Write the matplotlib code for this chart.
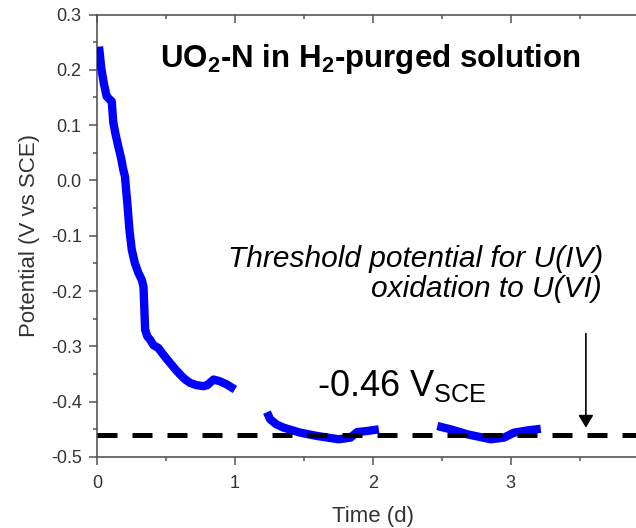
import numpy as np
import matplotlib
matplotlib.use("Agg")
import matplotlib.pyplot as plt
from matplotlib.ticker import MultipleLocator

plt.rcParams['font.family'] = ['Liberation Sans', 'DejaVu Sans']
plt.rcParams['mathtext.default'] = 'regular'

# Open circuit potential (time in days, potential in V vs SCE)
t_seg1 = [0.015, 0.03, 0.05, 0.07, 0.09, 0.107, 0.118, 0.135, 0.155, 0.175,
          0.191, 0.203, 0.212, 0.22, 0.235, 0.252, 0.275, 0.30, 0.325, 0.337,
          0.343, 0.349, 0.365, 0.385, 0.41, 0.445, 0.49, 0.53, 0.57, 0.603,
          0.64, 0.675, 0.72, 0.772, 0.80, 0.845, 0.89, 0.942, 1.0]
v_seg1 = [0.242, 0.205, 0.175, 0.152, 0.147, 0.143, 0.105, 0.083, 0.061, 0.04,
          0.019, 0.007, -0.02, -0.041, -0.089, -0.125, -0.15, -0.167, -0.18, -0.192,
          -0.23, -0.27, -0.282, -0.288, -0.298, -0.303, -0.318, -0.33, -0.342, -0.351,
          -0.36, -0.366, -0.37, -0.372, -0.37, -0.36, -0.363, -0.369, -0.378]

t_seg2 = [1.232, 1.256, 1.30, 1.353, 1.474, 1.595, 1.752, 1.837, 1.886, 1.958, 2.043]
v_seg2 = [-0.419, -0.432, -0.441, -0.447, -0.456, -0.462, -0.468, -0.465, -0.455, -0.453, -0.45]

t_seg3 = [2.467, 2.564, 2.685, 2.854, 2.95, 3.023, 3.12, 3.217]
v_seg3 = [-0.444, -0.45, -0.459, -0.468, -0.465, -0.456, -0.452, -0.449]

threshold = -0.46
arrow_t = 3.544
arrow_top = -0.277

fig = plt.figure(figsize=(6.36, 5.28), dpi=100)
ax = fig.add_axes([0.1525, 0.1345, 0.8676, 0.838])

for t, v in [(t_seg1, v_seg1), (t_seg2, v_seg2), (t_seg3, v_seg3)]:
    ax.plot(t, v, color='#0000ff', lw=6, solid_joinstyle='round', solid_capstyle='butt', zorder=3)

# threshold line
ax.axhline(threshold, color='black', lw=3.6, dashes=(4, 3), zorder=4)

ax.annotate('', xy=(arrow_t, threshold + 0.013), xytext=(arrow_t, arrow_top),
            arrowprops=dict(arrowstyle='-|>,head_width=0.45,head_length=0.75',
                            color='black', lw=1.2, shrinkA=0, shrinkB=0))

ax.text(0.458, 0.205, 'UO$_2$-N in H$_2$-purged solution', fontsize=22.5,
        fontweight='bold', ha='left', va='baseline')
ax.text(3.667, -0.156, 'Threshold potential for U(IV)', fontsize=21.5,
        style='italic', ha='right', va='baseline')
ax.text(3.66, -0.21, 'oxidation to U(VI)', fontsize=21.5,
        style='italic', ha='right', va='baseline')
ax.text(1.598, -0.389, '-0.46 V$_{SCE}$', fontsize=26, ha='left', va='baseline')

ax.set_xlim(0, 4)
ax.set_ylim(-0.5, 0.3)
ax.xaxis.set_major_locator(MultipleLocator(1))
ax.xaxis.set_minor_locator(MultipleLocator(0.5))
ax.yaxis.set_major_locator(MultipleLocator(0.1))
ax.yaxis.set_minor_locator(MultipleLocator(0.05))
ax.yaxis.set_major_formatter(plt.FuncFormatter(lambda v, p: f'{v:.1f}'))
ax.xaxis.set_major_formatter(plt.FuncFormatter(lambda v, p: '' if v > 3.5 else f'{v:.0f}'))

spine_col = '#555555'
for side in ['left', 'bottom', 'top']:
    ax.spines[side].set_color(spine_col)
    ax.spines[side].set_linewidth(1.2)
ax.spines['right'].set_visible(False)

ax.tick_params(axis='both', which='major', direction='out', length=6, width=1.1,
               color=spine_col, labelsize=13, labelcolor='#333333', pad=5)
ax.tick_params(axis='both', which='minor', direction='out', length=3, width=1.1,
               color=spine_col)
ax.tick_params(axis='x', which='both', top=True)
ax.tick_params(axis='x', which='major', pad=7)

# top ticks point inward, bottom ones outward
for tk in ax.xaxis.get_major_ticks() + ax.xaxis.get_minor_ticks():
    tk.tick2line.set_marker(3)

ax.set_xlabel('Time (d)', fontsize=16, color='#333333', labelpad=10)
ax.set_ylabel('Potential (V vs SCE)', fontsize=16, color='#333333', labelpad=8)

fig.savefig('out.png', dpi=100)
